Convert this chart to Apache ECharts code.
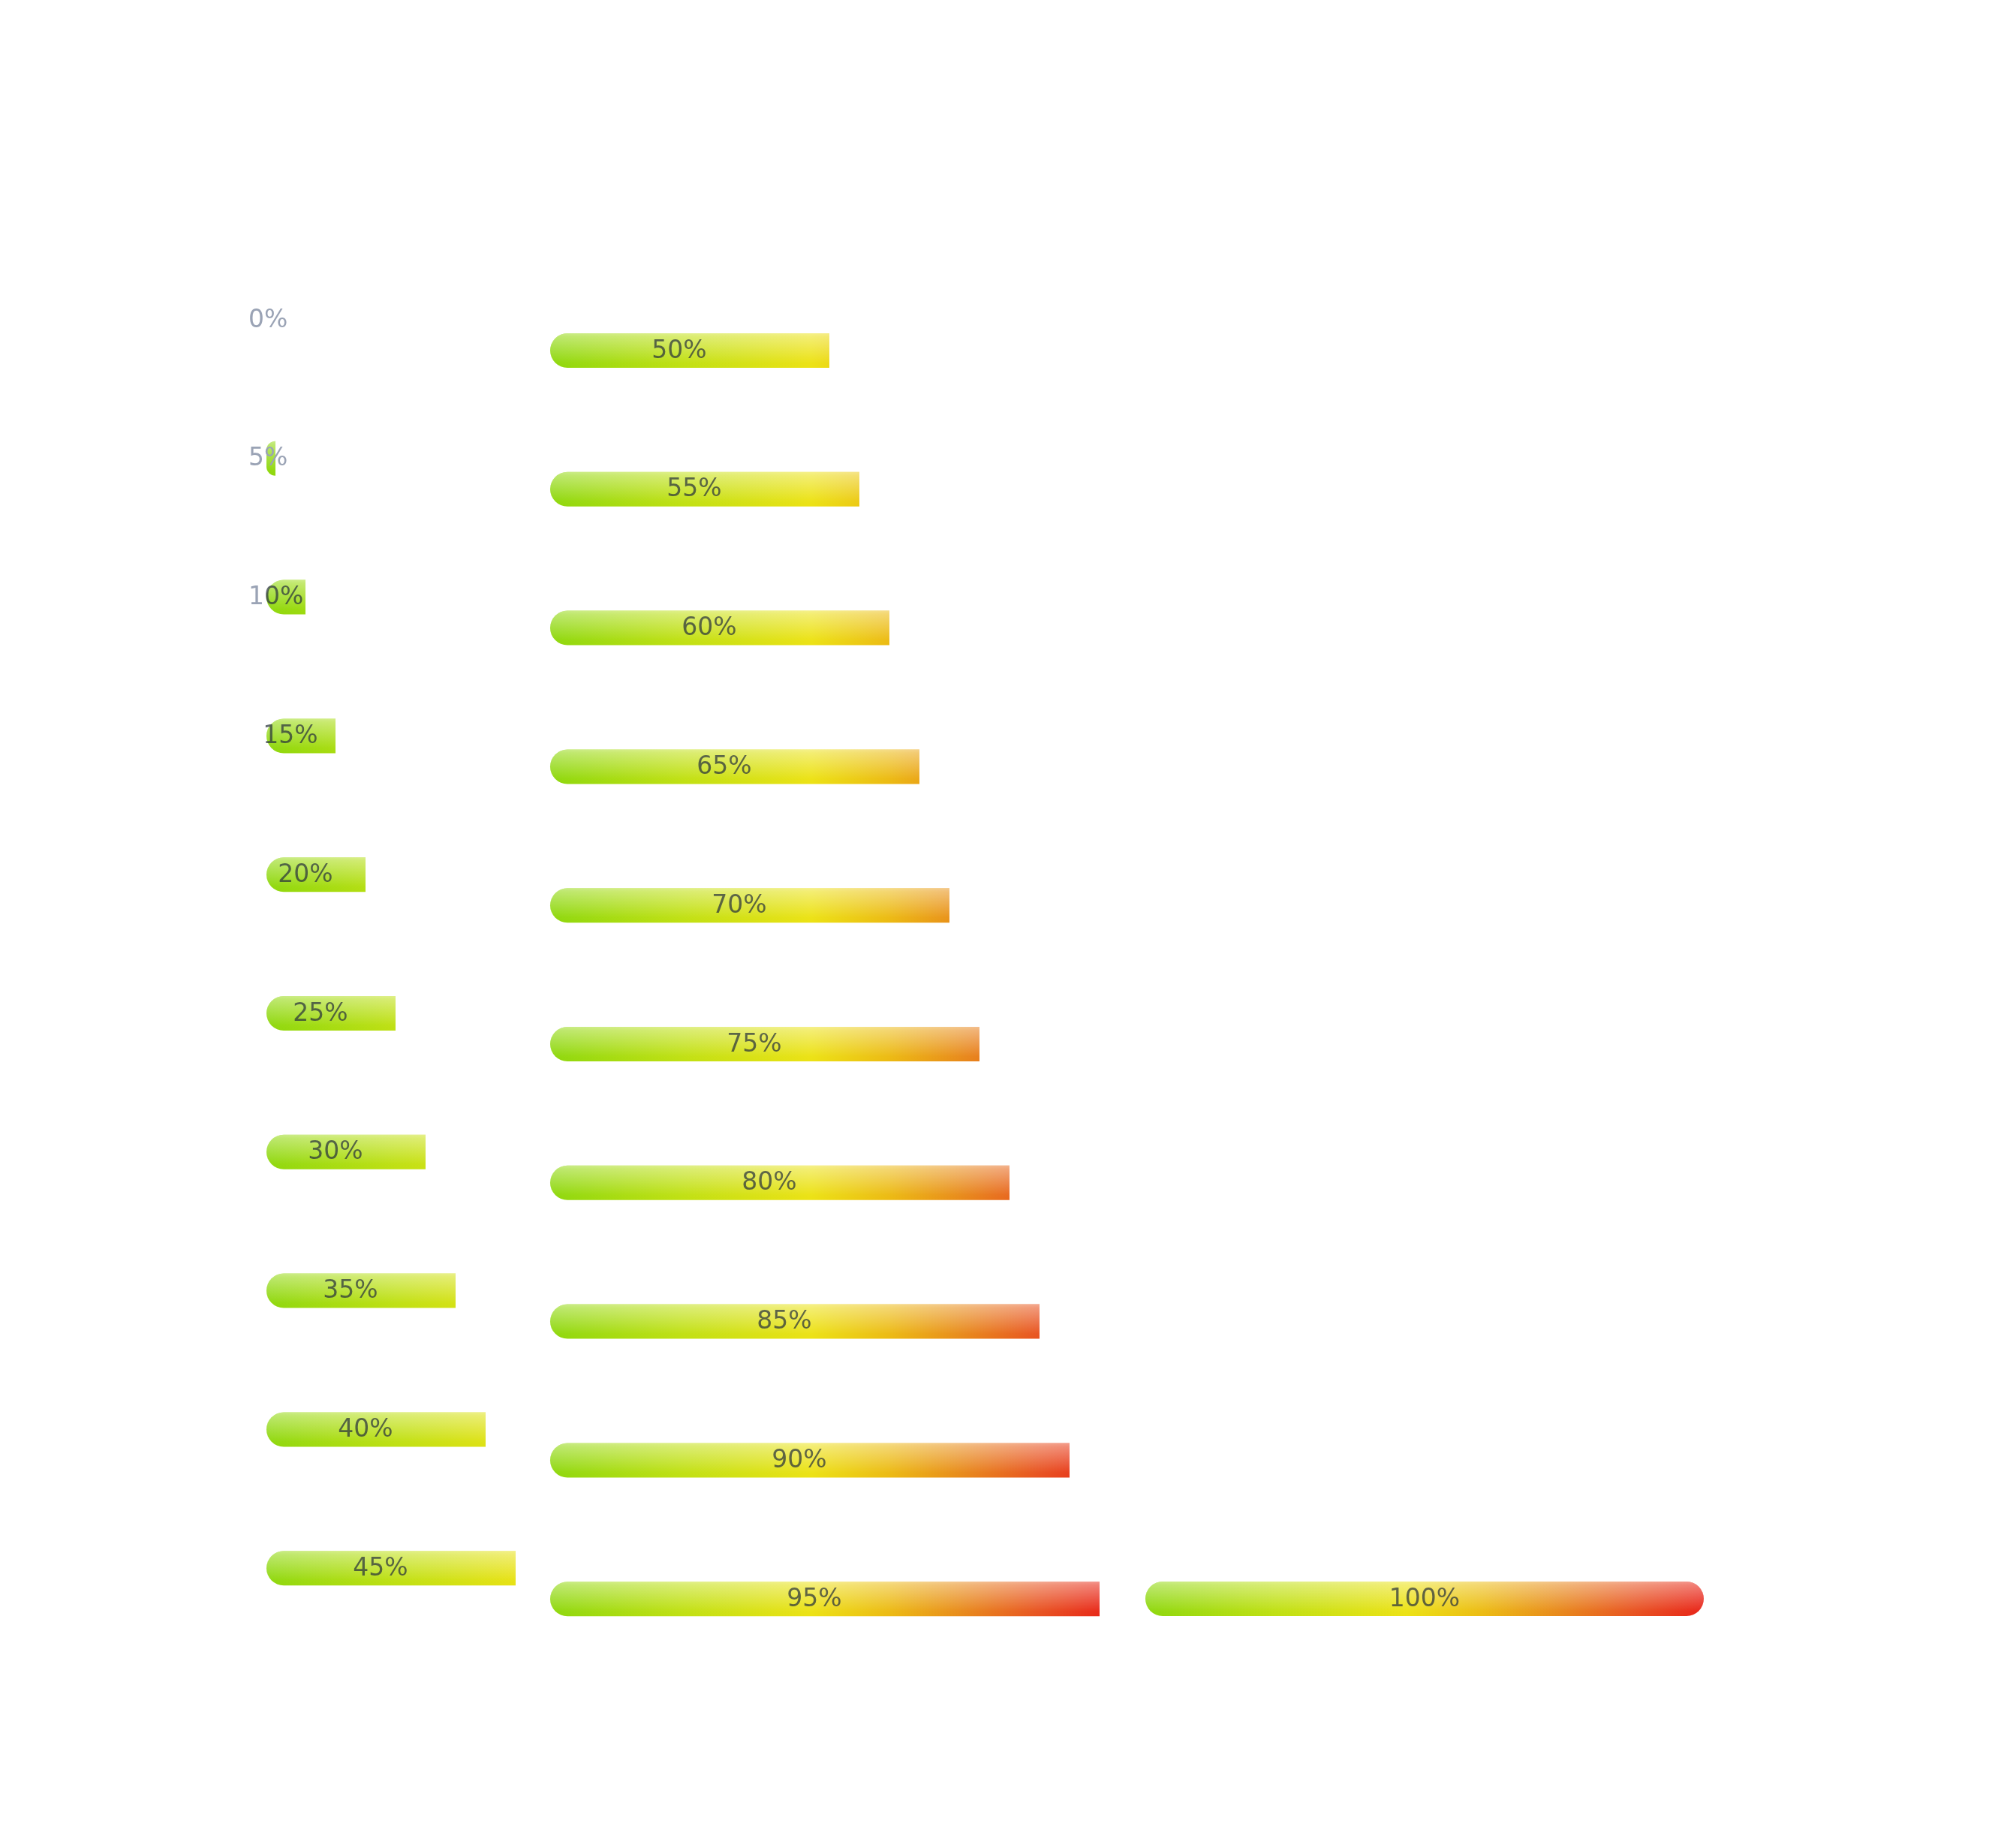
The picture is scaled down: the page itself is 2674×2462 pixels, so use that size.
<!DOCTYPE html>
<html>
<head>
<meta charset="utf-8">
<script src="https://cdn.jsdelivr.net/npm/echarts@6/dist/echarts.min.js"></script>
<style>html,body{margin:0;padding:0;background:#ffffff}#chart{width:2674px;height:2462px}</style>
</head>
<body>
<div id="chart"></div>
<script>
// ---- data ----
const col1Labels = ['0%', '5%', '10%', '15%', '20%', '25%', '30%', '35%', '40%', '45%'];
const col1Values = [0, 5, 10, 15, 20, 25, 30, 35, 40, 45];
const col2Labels = ['50%', '55%', '60%', '65%', '70%', '75%', '80%', '85%', '90%', '95%'];
const col2Values = [50, 55, 60, 65, 70, 75, 80, 85, 90, 95];
const col3Labels = ['100%'];
const col3Values = [100];

// ---- styles ----
const FONT_FAMILY = '"DejaVu Sans", Verdana, sans-serif';
const FONT_SIZE = 33;
const BAR_H = 46;
const CAP = 28;
const TEXT_DARK = 'rgba(40,50,60,0.72)';
const TEXT_LIGHT = '#9aa3b5';
const colorStops = [
  { offset: 0.00, color: '#86d60c' },
  { offset: 0.25, color: '#bfe012' },
  { offset: 0.47, color: '#ece214' },
  { offset: 0.60, color: '#ecba12' },
  { offset: 0.72, color: '#e88a1a' },
  { offset: 0.85, color: '#e85220' },
  { offset: 1.00, color: '#e81414' }
];

const measureCtx = document.createElement('canvas').getContext('2d');
measureCtx.font = FONT_SIZE + 'px ' + FONT_FAMILY;
function tw(s) { return measureCtx.measureText(s).width; }

function makeRender(labels) {
  return function (params, api) {
    const v = api.value(0);
    const idx = api.value(1);
    const p0 = api.coord([0, idx]);
    const p1 = api.coord([v, idx]);
    const p100 = api.coord([100, idx]);
    const cy = p0[1];
    const xs = p0[0] + CAP;
    let xe = p1[0];
    if (v >= 100) xe -= CAP;
    const children = [];
    if (xe > xs) {
      const w = xe - xs;
      const r = Math.min(BAR_H / 2, w);
      const radius = v >= 100 ? [BAR_H / 2, BAR_H / 2, BAR_H / 2, BAR_H / 2] : [r, 0, 0, r];
      const shape = { x: xs, y: cy - BAR_H / 2, width: w, height: BAR_H, r: radius };
      children.push({
        type: 'rect', shape: shape,
        style: { fill: new echarts.graphic.LinearGradient(p0[0], 0, p100[0], 0, colorStops, true) }
      });
      children.push({
        type: 'rect', shape: Object.assign({}, shape),
        style: {
          fill: new echarts.graphic.LinearGradient(0, cy - BAR_H / 2, 0, cy + BAR_H / 2, [
            { offset: 0, color: 'rgba(255,255,255,0.5)' },
            { offset: 0.1, color: 'rgba(255,255,255,0.4)' },
            { offset: 0.85, color: 'rgba(255,255,255,0.02)' },
            { offset: 1, color: 'rgba(255,255,255,0)' }
          ], true)
        }
      });
    }
    const text = labels[params.dataIndex];
    const total = tw(text);
    let tx = (p0[0] + p1[0]) / 2;
    const minLeft = p0[0] + 4;
    if (tx - total / 2 < minLeft) tx = minLeft + total / 2;
    let cx = tx - total / 2;
    text.split('').forEach(function (ch) {
      const cw = tw(ch);
      const mid = cx + cw / 2;
      const inside = xe > xs && mid > xs - 2 && mid < xe;
      children.push({
        type: 'text',
        style: {
          x: cx, y: cy + 1, text: ch, align: 'left', verticalAlign: 'middle',
          fontSize: FONT_SIZE, fontFamily: FONT_FAMILY, fill: inside ? TEXT_DARK : TEXT_LIGHT
        }
      });
      cx += cw;
    });
    return { type: 'group', children: children };
  };
}

function toData(values) { return values.map((v, i) => [v, i]); }

const chart = echarts.init(document.getElementById('chart'), null, { renderer: 'canvas' });
const grids = [
  { left: 327, top: 333.6, width: 800, height: 1848 },
  { left: 705, top: 374.6, width: 800, height: 1848 },
  { left: 1498, top: 2037.6, width: 800, height: 184.8 }
];
const labelSets = [col1Labels, col2Labels, col3Labels];
const valueSets = [col1Values, col2Values, col3Values];

chart.setOption({
  animation: false,
  backgroundColor: '#ffffff',
  grid: grids,
  xAxis: grids.map((g, i) => ({ type: 'value', gridIndex: i, min: 0, max: 100, show: false })),
  yAxis: grids.map((g, i) => ({ type: 'category', gridIndex: i, data: labelSets[i], inverse: true, show: false })),
  series: grids.map((g, i) => ({
    type: 'custom',
    xAxisIndex: i, yAxisIndex: i,
    encode: { x: 0, y: 1 },
    clip: false,
    renderItem: makeRender(labelSets[i]),
    data: toData(valueSets[i])
  }))
});
</script>
</body>
</html>
